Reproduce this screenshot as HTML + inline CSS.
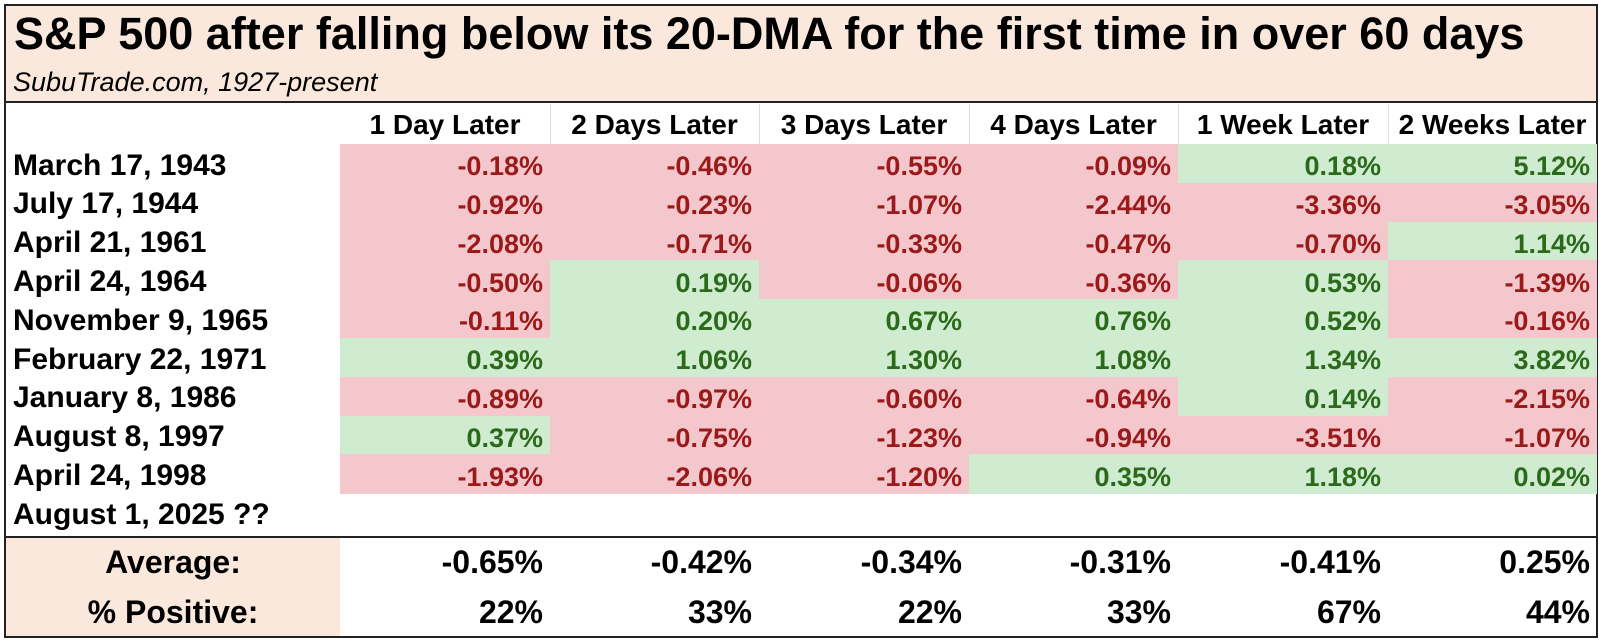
<!DOCTYPE html>
<html><head><meta charset="utf-8"><style>
*{margin:0;padding:0;box-sizing:border-box}
body{width:1600px;height:641px;background:#fff;font-family:"Liberation Sans",Arial,sans-serif;position:relative;overflow:hidden}
.frame{position:absolute;left:4px;top:4px;width:1594px;height:634px;border:2px solid #222}
.title{position:absolute;left:4px;top:4px;width:1594px;height:99px;background:#fbe8dc;border:2px solid #222}
.t1{position:absolute;left:14px;top:11px;font-size:45px;line-height:45px;font-weight:bold;color:#000;white-space:nowrap}
.t2{position:absolute;left:13px;top:69px;font-size:27px;line-height:27px;font-style:italic;color:#000;white-space:nowrap}
.c{position:absolute;white-space:nowrap}
.hd{font-size:28px;line-height:28px;font-weight:bold;text-align:center;top:111px}
.vs{position:absolute;top:104px;height:40px;width:1px;background:#ddd}
.lab{position:absolute;left:13px;font-size:30px;line-height:30px;font-weight:bold;white-space:nowrap}
.cell{position:absolute;height:39px}
.v{position:absolute;font-size:27px;line-height:27px;font-weight:bold;text-align:right;white-space:nowrap}
.n{background:#f4c7cc}
.p{background:#d0ecd0}
.vn{color:#9a1a1a}.vp{color:#2b6a1b}
.foot{position:absolute;left:6px;top:538px;width:334px;height:98px;background:#fbe8dc}
.line{position:absolute;left:4px;top:536px;width:1594px;height:2px;background:#222}
.fl{position:absolute;width:334px;left:6px;text-align:center;font-size:32px;line-height:32px;font-weight:bold}
.fv{position:absolute;text-align:right;font-size:32px;line-height:32px;font-weight:bold;white-space:nowrap}
</style></head><body>
<div class="frame"></div>
<div class="title"></div>
<div class="t1">S&amp;P 500 after falling below its 20-DMA for the first time in over 60 days</div>
<div class="t2">SubuTrade.com, 1927-present</div>
<div class="c hd" style="left:340px;width:210px">1 Day Later</div>
<div class="c hd" style="left:550px;width:209px">2 Days Later</div>
<div class="c hd" style="left:759px;width:210px">3 Days Later</div>
<div class="c hd" style="left:969px;width:209px">4 Days Later</div>
<div class="c hd" style="left:1178px;width:210px">1 Week Later</div>
<div class="c hd" style="left:1388px;width:209px">2 Weeks Later</div>
<div class="vs" style="left:550px"></div><div class="vs" style="left:759px"></div><div class="vs" style="left:969px"></div><div class="vs" style="left:1178px"></div><div class="vs" style="left:1388px"></div>
<div id="rows"></div>
<div class="line"></div>
<div class="foot"></div>
<div class="fl" style="top:546px">Average:</div>
<div class="fl" style="top:596px">% Positive:</div>
<script>
(function(){
var L=["March 17, 1943","July 17, 1944","April 21, 1961","April 24, 1964","November 9, 1965","February 22, 1971","January 8, 1986","August 8, 1997","April 24, 1998","August 1, 2025 ??"];
var D=[["-0.18","-0.46","-0.55","-0.09","0.18","5.12"],["-0.92","-0.23","-1.07","-2.44","-3.36","-3.05"],["-2.08","-0.71","-0.33","-0.47","-0.70","1.14"],["-0.50","0.19","-0.06","-0.36","0.53","-1.39"],["-0.11","0.20","0.67","0.76","0.52","-0.16"],["0.39","1.06","1.30","1.08","1.34","3.82"],["-0.89","-0.97","-0.60","-0.64","0.14","-2.15"],["0.37","-0.75","-1.23","-0.94","-3.51","-1.07"],["-1.93","-2.06","-1.20","0.35","1.18","0.02"]];
var X=[340,550,759,969,1178,1388,1597];
var h="";
for(var i=0;i<10;i++){var rt=144+i*38.8;var bl=rt+32;
h+='<div class="lab" style="top:'+(bl-25.4)+'px">'+L[i]+'</div>';
if(i<9)for(var j=0;j<6;j++){var v=D[i][j];var neg=v[0]=="-";
h+='<div class="cell '+(neg?"n":"p")+'" style="left:'+X[j]+'px;width:'+(X[j+1]-X[j])+'px;top:'+rt+'px;height:39.5px"></div>';
h+='<div class="v '+(neg?"vn":"vp")+'" style="left:'+X[j]+'px;width:'+(X[j+1]-X[j]-7)+'px;top:'+(bl-22.9)+'px">'+v+'%</div>';}}
var A=["-0.65%","-0.42%","-0.34%","-0.31%","-0.41%","0.25%"],P=["22%","33%","22%","33%","67%","44%"];
for(var j=0;j<6;j++){var w=X[j+1]-X[j]-7;h+='<div class="fv" style="left:'+X[j]+'px;width:'+w+'px;top:546px">'+A[j]+'</div><div class="fv" style="left:'+X[j]+'px;width:'+w+'px;top:596px">'+P[j]+'</div>';}
document.getElementById("rows").innerHTML=h;
})();
</script>
</body></html>
